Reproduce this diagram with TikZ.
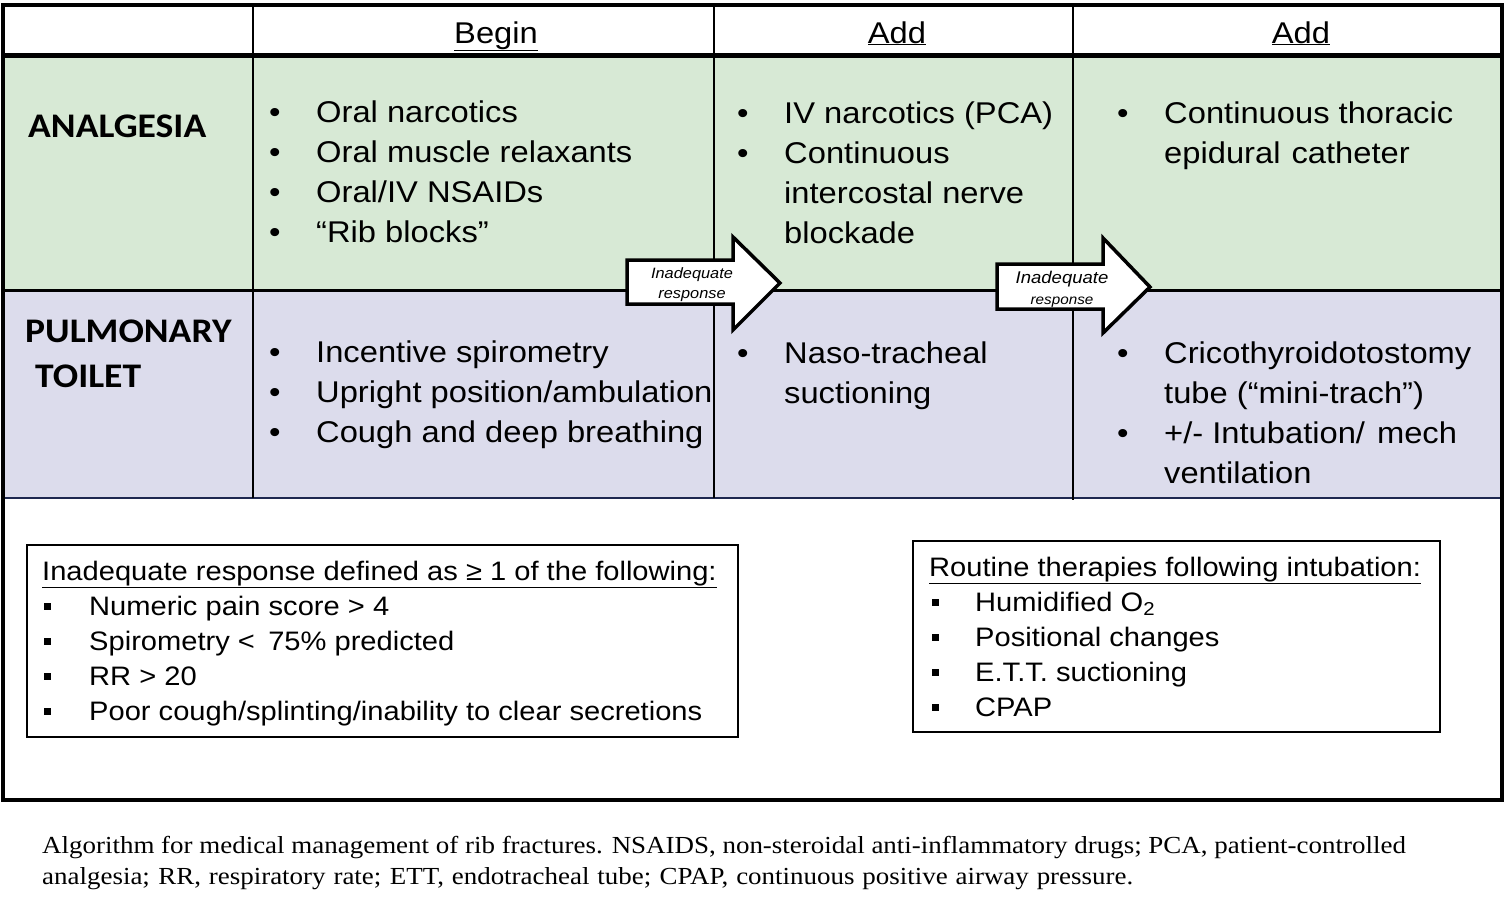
\documentclass[tikz,border=0pt]{standalone}
\usepackage{fontspec}
\setmainfont{Liberation Sans}[FakeStretch=1.09]
\newfontfamily\capfont{Liberation Serif}[FakeStretch=1.1]
\newfontfamily\lblfont{Carlito}[FakeStretch=1.09]
\definecolor{rowgreen}{RGB}{215,233,213}
\definecolor{rowlav}{RGB}{220,220,236}
\definecolor{navy}{RGB}{30,40,80}
\begin{document}
\begin{tikzpicture}[x=1pt,y=-1pt,
  txt/.style={anchor=base west,inner sep=0pt,font=\fontsize{30}{36}\selectfont},
  hdr/.style={anchor=base,inner sep=0pt,font=\fontsize{30}{36}\selectfont},
  rowlbl/.style={anchor=base west,inner sep=0pt,font=\lblfont\bfseries\fontsize{34.5}{40}\selectfont},
  arrtxt/.style={anchor=base,inner sep=0pt,font=\itshape\fontsize{15}{18}\selectfont},
  boxtxt/.style={anchor=base west,inner sep=0pt,font=\fontsize{26.7}{32}\selectfont},
  sqb/.style={fill=black,inner sep=0pt,minimum size=7pt},
  captxt/.style={anchor=base west,inner sep=0pt,font=\capfont\fontsize{24.5}{30}\selectfont},
  arrowshape/.style={draw=black,fill=white,line width=3.5pt,line join=miter},
  thinbox/.style={draw=black,line width=2pt}]
\useasboundingbox (0,0) rectangle (1504,910);
% row fills
\fill[rowgreen] (3,57) rectangle (1502,290);
\fill[rowlav] (3,290) rectangle (1502,498);
% lines
\draw[navy,line width=2.5pt] (3,498) -- (1502,498);
\draw[black,line width=3pt] (3,290) -- (1502,290);
\draw[black,line width=5pt] (3,55) -- (1502,55);
\draw[black,line width=2.5pt] (253,5) -- (253,498);
\draw[black,line width=2.5pt] (714,5) -- (714,498);
\draw[black,line width=2.5pt] (1073,5) -- (1073,500);
\draw[black,line width=4pt] (3,5) rectangle (1502,800);
% headers
\node[hdr] (h1) at (496,43) {\underline{Begin}};
\node[hdr] (h2) at (897,43) {\underline{Add}};
\node[hdr] (h3) at (1301,43) {\underline{Add}};
% row labels
\node[rowlbl] (l1) at (28,137) {ANALGESIA};
\node[rowlbl] (l2) at (25,342) {PULMONARY};
\node[rowlbl] (l3) at (35,387) {TOILET};
% analgesia col 1
\foreach \t [count=\i] in {Oral narcotics, Oral muscle relaxants, Oral/IV NSAIDs, “Rib blocks”}{
  \node[txt] (a1t\i) at (269,{122+40*(\i-1)}) {•};
  \node[txt] (a1x\i) at (316,{122+40*(\i-1)}) {\t};
}
% analgesia col 2
\node[txt] (a2b1) at (737,123) {•};
\node[txt] (a2b2) at (737,163) {•};
\foreach \t [count=\i] in {IV narcotics  (PCA), Continuous, intercostal  nerve, blockade}{
  \node[txt] (a2x\i) at (784,{123+40*(\i-1)}) {\t};
}
% analgesia col 3
\node[txt] (a3b1) at (1117,123) {•};
\node[txt] (a3x1) at (1164,123) {Continuous thoracic};
\node[txt] (a3x2) at (1164,163) {epidural\hspace{11pt}catheter};
% pulmonary col 1
\foreach \t [count=\i] in {Incentive spirometry, Upright position/ambulation, Cough and deep breathing}{
  \node[txt] (p1t\i) at (269,{362+40*(\i-1)}) {•};
  \node[txt] (p1x\i) at (316,{362+40*(\i-1)}) {\t};
}
% pulmonary col 2
\node[txt] (p2b1) at (737,363) {•};
\node[txt] (p2x1) at (784,363) {Naso-tracheal};
\node[txt] (p2x2) at (784,403) {suctioning};
% pulmonary col 3
\node[txt] (p3b1) at (1117,363) {•};
\node[txt] (p3x1) at (1164,363) {Cricothyroidotostomy};
\node[txt] (p3x2) at (1164,403) {tube (“mini-trach”)};
\node[txt] (p3b2) at (1117,443) {•};
\node[txt] (p3x3) at (1164,443) {+/- Intubation/\hspace{0.4em}mech};
\node[txt] (p3x4) at (1164,483) {ventilation};
% arrows
\draw[arrowshape] (627,260) -- (733,260) -- (733,237) -- (780,283) -- (733,330) -- (733,304) -- (627,304) -- cycle;
\node[arrtxt] (ar1a) at (692,278) {Inadequate};
\node[arrtxt] (ar1b) at (692,298) {response};
\draw[arrowshape] (997,264) -- (1103,264) -- (1103,238) -- (1150,287) -- (1103,333) -- (1103,309) -- (997,309) -- cycle;
\node[arrtxt,font=\itshape\fontsize{17}{20}\selectfont] (ar2a) at (1062,283) {Inadequate};
\node[arrtxt,font=\itshape\fontsize{14}{17}\selectfont] (ar2b) at (1062,304) {response};
% box 1
\draw[thinbox] (27,545) rectangle (738,737);
\node[boxtxt] (b1h) at (42,580) {\underline{Inadequate response defined as ≥ 1 of the following:}};
\foreach \t [count=\i] in {Numeric pain score > 4, Spirometry <\hspace{0.5em}75\% predicted, RR > 20, Poor cough/splinting/inability to clear secretions}{
  \node[sqb] (b1s\i) at (47,{606+35*(\i-1)}) {};
  \node[boxtxt] (b1x\i) at (89,{615+35*(\i-1)}) {\t};
}
% box 2
\draw[thinbox] (913,541) rectangle (1440,732);
\node[boxtxt] (b2h) at (929,576) {\underline{Routine therapies following intubation:}};
\foreach \t [count=\i] in {Humidified O\textsubscript{2}, Positional changes, E.T.T. suctioning, CPAP}{
  \node[sqb] (b2s\i) at (935,{602+35*(\i-1)}) {};
  \node[boxtxt] (b2x\i) at (975,{611+35*(\i-1)}) {\t};
}
% caption
\node[captxt] (c1) at (42,853) {Algorithm for medical management of rib fractures. NSAIDS, non-steroidal anti-inflammatory drugs; PCA, patient-controlled};
\node[captxt] (c2) at (42,884) {\makebox[1091pt][s]{analgesia; RR, respiratory rate; ETT, endotracheal tube; CPAP, continuous positive airway pressure.}};
\end{tikzpicture}
\end{document}
